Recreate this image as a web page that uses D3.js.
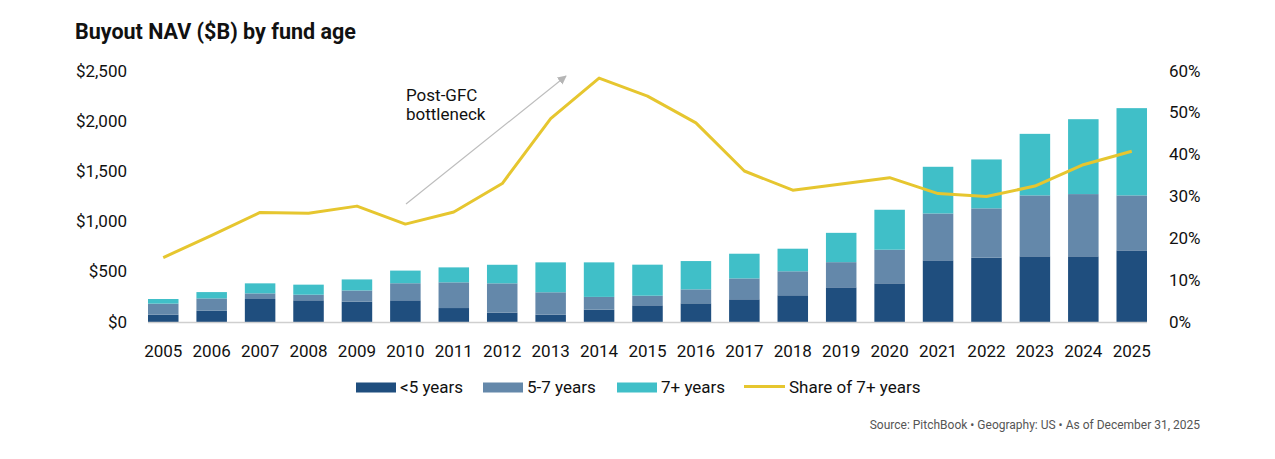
<!DOCTYPE html>
<html>
<head>
<meta charset="utf-8">
<script src="https://cdn.jsdelivr.net/npm/d3@7"></script>
<style>
    body { margin: 0; background: #fff; }
    #chart { width: 1275px; height: 459px; }
    text { font-family: Roboto, "Noto Sans", sans-serif; fill: #111; }
    .tick-label { font-size: 17px; }
    .legend-label { font-size: 17px; }
</style>
</head>
<body>
<div id="chart"></div>
<script>
// chart data
const years = ["2005","2006","2007","2008","2009","2010","2011","2012","2013","2014",
               "2015","2016","2017","2018","2019","2020","2021","2022","2023","2024","2025"];
const under5 =     [73,112,229,216,202,216,139,93,73,123,166,186,226,266,345,385,614,641,654,654,713];
const fiveToSeven = [110,123,56,56,112,170,256,292,223,127,96,139,208,239,251,335,467,491,607,620,548];
const sevenPlus =  [46,63,100,100,110,126,149,185,298,344,309,282,246,225,292,398,465,487,613,746,869];
const share7 =     [15.4,20.7,26.2,26.0,27.7,23.4,26.3,33.1,48.6,58.3,54.0,47.6,36.1,31.5,33.0,34.5,30.7,30.0,32.5,37.6,40.8];

const navTicks = [0, 500, 1000, 1500, 2000, 2500];
const shareTicks = [0, 10, 20, 30, 40, 50, 60];
const seriesNames = ["<5 years", "5-7 years", "7+ years"];
const seriesColors = ["#1f4e7e", "#6488aa", "#40bfc8"];
const lineColor = "#e6c62f";

const width = 1275, height = 459;

const svg = d3.select("#chart")
    .append("svg")
    .attr("width", width)
    .attr("height", height);

// stacked rows
const rows = years.map((y, i) => ({
    year: y, a: under5[i], b: fiveToSeven[i], c: sevenPlus[i], share: share7[i]
}));
const stack = d3.stack().keys(["a", "b", "c"])(rows);

// scales
const xScale = d3.scaleBand()
    .domain(years)
    .range([132.5, 1162.5])
    .paddingInner(0.37)
    .paddingOuter(0.32);

const yScale = d3.scaleLinear()
    .domain([0, 2500])
    .range([322, 71]);

const pScale = d3.scaleLinear()
    .domain([0, 60])
    .range([322, 71]);

// title
svg.append("text")
    .attr("x", 75)
    .attr("y", 39)
    .style("font-size", "21.5px")
    .style("font-weight", "bold")
    .text("Buyout NAV ($B) by fund age");

// left axis labels
svg.append("g")
    .selectAll("text")
    .data(navTicks)
    .join("text")
    .attr("class", "tick-label")
    .attr("x", 127)
    .attr("y", d => yScale(d))
    .attr("dy", "0.33em")
    .attr("text-anchor", "end")
    .text(d => "$" + d3.format(",")(d));

// right axis labels
svg.append("g")
    .selectAll("text")
    .data(shareTicks)
    .join("text")
    .attr("class", "tick-label")
    .attr("x", 1169)
    .attr("y", d => pScale(d))
    .attr("dy", "0.33em")
    .text(d => d + "%");

// bars
svg.append("g")
    .selectAll("g")
    .data(stack)
    .join("g")
    .attr("fill", (d, i) => seriesColors[i])
    .selectAll("rect")
    .data(d => d)
    .join("rect")
    .attr("x", d => xScale(d.data.year))
    .attr("y", d => yScale(d[1]))
    .attr("width", xScale.bandwidth())
    .attr("height", d => yScale(d[0]) - yScale(d[1]));

// baseline
svg.append("line")
    .attr("x1", xScale(years[0]))
    .attr("x2", xScale(years[years.length - 1]) + xScale.bandwidth())
    .attr("y1", yScale(0) + 0.5)
    .attr("y2", yScale(0) + 0.5)
    .attr("stroke", "#cfcfcf")
    .attr("stroke-width", 1.5);

// x labels
svg.append("g")
    .selectAll("text")
    .data(years)
    .join("text")
    .attr("class", "tick-label")
    .attr("x", d => xScale(d) + xScale.bandwidth() / 2)
    .attr("y", 357)
    .attr("text-anchor", "middle")
    .text(d => d);

// share line
const line = d3.line()
    .x(d => xScale(d.year) + xScale.bandwidth() / 2)
    .y(d => pScale(d.share));

svg.append("path")
    .datum(rows)
    .attr("fill", "none")
    .attr("stroke", lineColor)
    .attr("stroke-width", 3)
    .attr("stroke-linejoin", "round")
    .attr("d", line);

// annotation arrow
const defs = svg.append("defs");
defs.append("marker")
    .attr("id", "arrowhead")
    .attr("viewBox", "0 0 10 10")
    .attr("refX", 9)
    .attr("refY", 5)
    .attr("markerWidth", 9)
    .attr("markerHeight", 9)
    .attr("markerUnits", "userSpaceOnUse")
    .attr("orient", "auto")
    .append("path")
    .attr("d", "M0,0 L10,5 L0,10 z")
    .attr("fill", "#b5b5b5");

svg.append("line")
    .attr("x1", 406)
    .attr("y1", 204)
    .attr("x2", 566)
    .attr("y2", 76)
    .attr("stroke", "#bdbdbd")
    .attr("stroke-width", 1.2)
    .attr("marker-end", "url(#arrowhead)");

const note = svg.append("text")
    .attr("x", 406)
    .attr("y", 101)
    .style("font-size", "17px");
note.append("tspan").attr("x", 406).text("Post-GFC");
note.append("tspan").attr("x", 406).attr("dy", 19).text("bottleneck");

// legend
const legend = svg.append("g");
const legendX = [356, 483, 617];
seriesNames.forEach((name, i) => {
    legend.append("rect")
        .attr("x", legendX[i])
        .attr("y", 382.5)
        .attr("width", 40)
        .attr("height", 10)
        .attr("fill", seriesColors[i]);
    legend.append("text")
        .attr("class", "legend-label")
        .attr("x", legendX[i] + 44)
        .attr("y", 387.5)
        .attr("dy", "0.35em")
        .text(name);
});
legend.append("line")
    .attr("x1", 744)
    .attr("x2", 785)
    .attr("y1", 386.5)
    .attr("y2", 386.5)
    .attr("stroke", lineColor)
    .attr("stroke-width", 3);
legend.append("text")
    .attr("class", "legend-label")
    .attr("x", 789)
    .attr("y", 387.5)
    .attr("dy", "0.35em")
    .text("Share of 7+ years");

// source note
svg.append("text")
    .attr("x", 1200)
    .attr("y", 425)
    .attr("dy", "0.35em")
    .attr("text-anchor", "end")
    .style("font-size", "12px")
    .style("fill", "#555")
    .text("Source: PitchBook  •  Geography: US  •  As of December 31, 2025");
</script>
</body>
</html>
